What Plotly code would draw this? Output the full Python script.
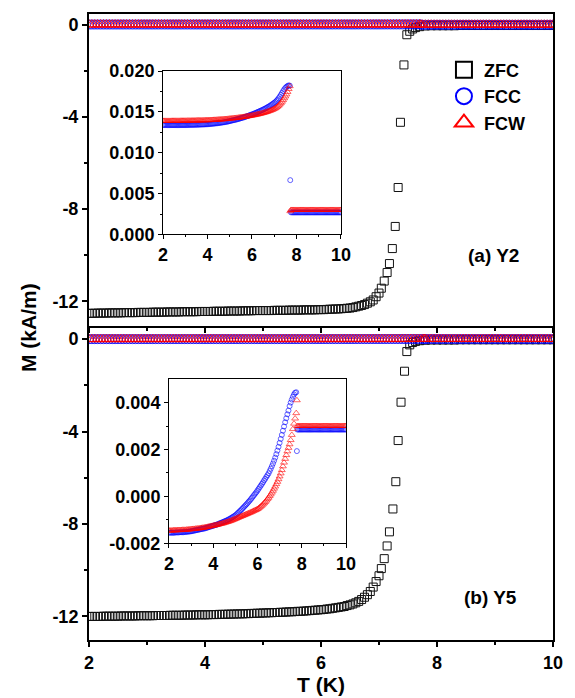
import plotly.graph_objects as go

# ---------------- data ----------------
# ZFC, panel (a) Y2
T_zfc_a = [2.00,2.05,2.10,2.15,2.20,2.25,2.30,2.35,2.40,2.45,2.50,2.55,2.60,2.65,2.70,2.75,2.80,2.85,2.90,2.95,
           3.00,3.05,3.10,3.15,3.20,3.25,3.30,3.35,3.40,3.45,3.50,3.55,3.60,3.65,3.70,3.75,3.80,3.85,3.90,3.95,
           4.00,4.05,4.10,4.15,4.20,4.25,4.30,4.35,4.40,4.45,4.50,4.55,4.60,4.65,4.70,4.75,4.80,4.85,4.90,4.95,
           5.00,5.05,5.10,5.15,5.20,5.25,5.30,5.35,5.40,5.45,5.50,5.55,5.60,5.65,5.70,5.75,5.80,5.85,5.90,5.95,
           6.00,6.05,6.10,6.15,6.20,6.25,6.30,6.35,6.40,6.45,6.50,6.55,6.60,6.65,6.70,6.75,6.80,6.85,6.90,6.95,
           7.00,7.04,7.09,7.14,7.18,7.23,7.28,7.33,7.37,7.43,7.48,7.53,7.58,7.63,7.70,7.80,
           7.90,8.00,8.10,8.20,8.30,8.40,8.50,8.60,8.70,8.80,8.90,9.00,9.10,9.20,9.30,9.40,9.50,9.60,9.70,9.80,9.90,10.00]
M_zfc_a = [-12.52,-12.52,-12.52,-12.51,-12.51,-12.51,-12.51,-12.50,-12.50,-12.50,-12.50,-12.50,-12.49,-12.49,-12.49,-12.49,-12.49,-12.48,-12.48,-12.48,
           -12.48,-12.48,-12.47,-12.47,-12.47,-12.47,-12.47,-12.46,-12.46,-12.46,-12.46,-12.46,-12.45,-12.45,-12.45,-12.45,-12.45,-12.45,-12.44,-12.44,
           -12.44,-12.44,-12.44,-12.43,-12.43,-12.43,-12.43,-12.43,-12.42,-12.42,-12.42,-12.42,-12.42,-12.41,-12.41,-12.41,-12.41,-12.40,-12.40,-12.40,
           -12.40,-12.40,-12.40,-12.40,-12.39,-12.39,-12.39,-12.39,-12.39,-12.38,-12.38,-12.38,-12.38,-12.38,-12.37,-12.37,-12.37,-12.37,-12.37,-12.36,
           -12.36,-12.36,-12.35,-12.34,-12.34,-12.33,-12.33,-12.32,-12.31,-12.30,-12.29,-12.27,-12.24,-12.21,-12.18,-12.14,-12.08,-12.02,-11.94,-11.80,
           -11.64,-11.43,-11.12,-10.75,-10.36,-9.71,-8.75,-7.06,-4.23,-1.74,-0.43,-0.28,-0.18,-0.12,-0.08,-0.05,
           -0.04,-0.04,-0.04,-0.04,-0.04,-0.03,-0.03,-0.03,-0.03,-0.03,-0.03,-0.03,-0.03,-0.03,-0.03,-0.03,-0.03,-0.03,-0.03,-0.03,-0.03,-0.03]

# ZFC, panel (b) Y5
T_zfc_b = [2.00,2.05,2.10,2.15,2.20,2.25,2.30,2.35,2.40,2.45,2.50,2.55,2.60,2.65,2.70,2.75,2.80,2.85,2.90,2.95,
           3.00,3.05,3.10,3.15,3.20,3.25,3.30,3.35,3.40,3.45,3.50,3.55,3.60,3.65,3.70,3.75,3.80,3.85,3.90,3.95,
           4.00,4.05,4.10,4.15,4.20,4.25,4.30,4.35,4.40,4.45,4.50,4.55,4.60,4.65,4.70,4.75,4.80,4.85,4.90,4.95,
           5.00,5.05,5.10,5.15,5.20,5.25,5.30,5.35,5.40,5.45,5.50,5.55,5.60,5.65,5.70,5.75,5.80,5.85,5.90,5.95,
           6.00,6.05,6.10,6.15,6.20,6.25,6.30,6.35,6.40,6.45,6.50,6.55,6.60,6.65,6.70,6.75,6.80,6.85,6.90,6.95,
           7.00,7.04,7.09,7.14,7.18,7.24,7.29,7.33,7.38,7.44,7.48,7.53,7.58,7.63,7.70,7.80,
           7.90,8.00,8.10,8.20,8.30,8.40,8.50,8.60,8.70,8.80,8.90,9.00,9.10,9.20,9.30,9.40,9.50,9.60,9.70,9.80,9.90,10.00]
M_zfc_b = [-12.00,-12.00,-12.00,-12.00,-12.00,-11.99,-11.99,-11.99,-11.99,-11.99,-11.99,-11.98,-11.98,-11.98,-11.98,-11.98,-11.98,-11.97,-11.97,-11.97,
           -11.97,-11.97,-11.97,-11.96,-11.96,-11.96,-11.96,-11.96,-11.95,-11.95,-11.95,-11.95,-11.95,-11.94,-11.94,-11.94,-11.94,-11.93,-11.93,-11.93,
           -11.93,-11.93,-11.92,-11.92,-11.92,-11.91,-11.91,-11.91,-11.90,-11.90,-11.90,-11.89,-11.89,-11.89,-11.88,-11.88,-11.87,-11.87,-11.86,-11.86,
           -11.85,-11.85,-11.84,-11.84,-11.83,-11.83,-11.82,-11.82,-11.81,-11.80,-11.80,-11.79,-11.78,-11.78,-11.77,-11.76,-11.75,-11.74,-11.73,-11.72,
           -11.71,-11.70,-11.68,-11.67,-11.65,-11.63,-11.61,-11.59,-11.57,-11.53,-11.50,-11.46,-11.41,-11.35,-11.27,-11.17,-11.06,-10.92,-10.73,-10.49,
           -10.24,-9.93,-9.50,-8.95,-8.34,-7.35,-6.17,-4.39,-2.73,-1.39,-0.54,-0.25,-0.15,-0.10,-0.07,-0.05,
           -0.04,-0.04,-0.04,-0.04,-0.04,-0.03,-0.03,-0.03,-0.03,-0.03,-0.03,-0.03,-0.03,-0.03,-0.03,-0.03,-0.03,-0.03,-0.03,-0.03,-0.03,-0.03]

# FCC / FCW, panel (a) Y2  (kA/m)
T_fc_a = [2.00,2.05,2.10,2.15,2.20,2.25,2.30,2.35,2.40,2.45,2.50,2.55,2.60,2.65,2.70,2.75,2.80,2.85,2.90,2.95,
          3.00,3.05,3.10,3.15,3.20,3.25,3.30,3.35,3.40,3.45,3.50,3.55,3.60,3.65,3.70,3.75,3.80,3.85,3.90,3.95,
          4.00,4.05,4.10,4.15,4.20,4.25,4.30,4.35,4.40,4.45,4.50,4.55,4.60,4.65,4.70,4.75,4.80,4.85,4.90,4.95,
          5.00,5.05,5.10,5.15,5.20,5.25,5.30,5.35,5.40,5.45,5.50,5.55,5.60,5.65,5.70,5.75,5.80,5.85,5.90,5.95,
          6.00,6.05,6.10,6.15,6.20,6.25,6.30,6.35,6.40,6.45,6.50,6.55,6.60,6.65,6.70,6.75,6.80,6.85,6.90,6.95,
          7.00,7.05,7.10,7.15,7.20,7.25,7.30,7.35,7.40,7.45,7.50,7.55,7.60,7.65,7.70,
          7.72,
          7.75,7.80,7.85,7.90,7.95,
          8.00,8.05,8.10,8.15,8.20,8.25,8.30,8.35,8.40,8.45,8.50,8.55,8.60,8.65,8.70,8.75,8.80,8.85,8.90,8.95,
          9.00,9.05,9.10,9.15,9.20,9.25,9.30,9.35,9.40,9.45,9.50,9.55,9.60,9.65,9.70,9.75,9.80,9.85,9.90,9.95,
          10.00]
M_fcc_a = [0.01340,0.01340,0.01340,0.01340,0.01339,0.01339,0.01339,0.01339,0.01339,0.01339,0.01339,0.01339,0.01339,0.01339,0.01339,0.01339,0.01340,0.01340,0.01340,0.01340,
           0.01340,0.01340,0.01341,0.01341,0.01342,0.01342,0.01342,0.01342,0.01343,0.01343,0.01344,0.01344,0.01345,0.01345,0.01346,0.01346,0.01347,0.01347,0.01348,0.01349,
           0.01350,0.01351,0.01352,0.01353,0.01355,0.01356,0.01358,0.01359,0.01361,0.01362,0.01364,0.01366,0.01368,0.01370,0.01372,0.01374,0.01377,0.01379,0.01382,0.01385,
           0.01388,0.01391,0.01395,0.01398,0.01401,0.01404,0.01408,0.01411,0.01415,0.01419,0.01423,0.01427,0.01431,0.01435,0.01440,0.01445,0.01450,0.01455,0.01460,0.01465,
           0.01470,0.01475,0.01481,0.01486,0.01492,0.01498,0.01504,0.01510,0.01516,0.01522,0.01529,0.01536,0.01543,0.01550,0.01558,0.01566,0.01574,0.01583,0.01592,0.01602,
           0.01612,0.01623,0.01636,0.01651,0.01668,0.01688,0.01710,0.01732,0.01755,0.01776,0.01794,0.01808,0.01818,0.01825,0.01822,
           0.00665,
           0.00271,0.00270,0.00270,0.00270,0.00270,
           0.00270,0.00270,0.00270,0.00270,0.00270,0.00270,0.00270,0.00270,0.00270,0.00270,0.00270,0.00270,0.00270,0.00270,0.00270,0.00270,0.00270,0.00270,0.00270,0.00270,
           0.00270,0.00270,0.00270,0.00270,0.00270,0.00270,0.00270,0.00270,0.00270,0.00270,0.00270,0.00270,0.00270,0.00270,0.00270,0.00270,0.00270,0.00270,0.00270,0.00270,
           0.00270]
M_fcw_a = [0.01390,0.01390,0.01390,0.01390,0.01390,0.01390,0.01390,0.01390,0.01391,0.01391,0.01391,0.01391,0.01391,0.01391,0.01391,0.01391,0.01392,0.01392,0.01392,0.01392,
           0.01392,0.01392,0.01393,0.01393,0.01393,0.01393,0.01394,0.01394,0.01394,0.01394,0.01395,0.01395,0.01396,0.01396,0.01396,0.01396,0.01397,0.01397,0.01398,0.01398,
           0.01399,0.01399,0.01400,0.01400,0.01401,0.01402,0.01403,0.01403,0.01404,0.01405,0.01406,0.01407,0.01408,0.01409,0.01410,0.01411,0.01412,0.01413,0.01415,0.01416,
           0.01418,0.01419,0.01421,0.01422,0.01424,0.01425,0.01427,0.01428,0.01430,0.01432,0.01434,0.01436,0.01438,0.01440,0.01442,0.01444,0.01446,0.01448,0.01451,0.01453,
           0.01456,0.01458,0.01461,0.01464,0.01467,0.01470,0.01473,0.01476,0.01480,0.01483,0.01487,0.01491,0.01495,0.01499,0.01504,0.01509,0.01514,0.01519,0.01525,0.01531,
           0.01538,0.01546,0.01555,0.01565,0.01577,0.01591,0.01607,0.01625,0.01645,0.01667,0.01690,0.01715,0.01745,0.01780,0.01815,
           0.00285,
           0.00300,0.00300,0.00300,0.00300,0.00300,
           0.00300,0.00300,0.00300,0.00300,0.00300,0.00300,0.00300,0.00300,0.00300,0.00300,0.00300,0.00300,0.00300,0.00300,0.00300,0.00300,0.00300,0.00300,0.00300,0.00300,
           0.00300,0.00300,0.00300,0.00300,0.00300,0.00300,0.00300,0.00300,0.00300,0.00300,0.00300,0.00300,0.00300,0.00300,0.00300,0.00300,0.00300,0.00300,0.00300,0.00300,
           0.00300]

# FCC / FCW, panel (b) Y5  (kA/m)
T_fc_b = [2.00,2.05,2.10,2.15,2.20,2.25,2.30,2.35,2.40,2.45,2.50,2.55,2.60,2.65,2.70,2.75,2.80,2.85,2.90,2.95,
          3.00,3.05,3.10,3.15,3.20,3.25,3.30,3.35,3.40,3.45,3.50,3.55,3.60,3.65,3.70,3.75,3.80,3.85,3.90,3.95,
          4.00,4.05,4.10,4.15,4.20,4.25,4.30,4.35,4.40,4.45,4.50,4.55,4.60,4.65,4.70,4.75,4.80,4.85,4.90,4.95,
          5.00,5.05,5.10,5.15,5.20,5.25,5.30,5.35,5.40,5.45,5.50,5.55,5.60,5.65,5.70,5.75,5.80,5.85,5.90,5.95,
          6.00,6.05,6.10,6.15,6.20,6.25,6.30,6.35,6.40,6.45,6.50,6.55,6.60,6.65,6.70,6.75,6.80,6.85,6.90,6.95,
          7.00,7.05,7.10,7.15,7.20,7.25,7.30,7.35,7.40,7.45,7.50,7.55,7.60,7.65,7.70,7.75,
          7.78,
          7.80,7.85,7.90,7.95,
          8.00,8.05,8.10,8.15,8.20,8.25,8.30,8.35,8.40,8.45,8.50,8.55,8.60,8.65,8.70,8.75,8.80,8.85,8.90,8.95,
          9.00,9.05,9.10,9.15,9.20,9.25,9.30,9.35,9.40,9.45,9.50,9.55,9.60,9.65,9.70,9.75,9.80,9.85,9.90,9.95,
          10.00]
M_fcc_b = [-0.00155,-0.00155,-0.00155,-0.00155,-0.00155,-0.00155,-0.00154,-0.00154,-0.00154,-0.00154,-0.00153,-0.00153,-0.00153,-0.00153,-0.00152,-0.00152,-0.00151,-0.00151,-0.00150,-0.00150,
           -0.00149,-0.00148,-0.00147,-0.00146,-0.00145,-0.00144,-0.00143,-0.00142,-0.00141,-0.00140,-0.00139,-0.00138,-0.00137,-0.00136,-0.00134,-0.00133,-0.00131,-0.00130,-0.00128,-0.00127,
           -0.00125,-0.00124,-0.00122,-0.00121,-0.00119,-0.00117,-0.00115,-0.00113,-0.00111,-0.00109,-0.00107,-0.00105,-0.00103,-0.00101,-0.00098,-0.00096,-0.00093,-0.00090,-0.00087,-0.00084,
           -0.00081,-0.00077,-0.00072,-0.00068,-0.00063,-0.00059,-0.00054,-0.00049,-0.00044,-0.00039,-0.00034,-0.00029,-0.00023,-0.00018,-0.00012,-0.00006,0.00000,0.00006,0.00012,0.00018,
           0.00025,0.00032,0.00039,0.00046,0.00053,0.00060,0.00068,0.00075,0.00083,0.00090,0.00098,0.00108,0.00118,0.00129,0.00140,0.00152,0.00165,0.00180,0.00195,0.00211,
           0.00228,0.00245,0.00262,0.00280,0.00298,0.00316,0.00333,0.00350,0.00366,0.00385,0.00400,0.00413,0.00425,0.00435,0.00442,0.00444,
           0.00193,
           0.00285,0.00285,0.00285,0.00285,
           0.00285,0.00285,0.00285,0.00285,0.00285,0.00285,0.00285,0.00285,0.00285,0.00285,0.00285,0.00285,0.00285,0.00285,0.00285,0.00285,0.00285,0.00285,0.00285,0.00285,
           0.00285,0.00285,0.00285,0.00285,0.00285,0.00285,0.00285,0.00285,0.00285,0.00285,0.00285,0.00285,0.00285,0.00285,0.00285,0.00285,0.00285,0.00285,0.00285,0.00285,
           0.00285]
M_fcw_b = [-0.00146,-0.00146,-0.00146,-0.00146,-0.00145,-0.00145,-0.00145,-0.00145,-0.00144,-0.00144,-0.00144,-0.00144,-0.00143,-0.00143,-0.00143,-0.00143,-0.00142,-0.00142,-0.00141,-0.00141,
           -0.00140,-0.00140,-0.00139,-0.00139,-0.00138,-0.00138,-0.00137,-0.00137,-0.00136,-0.00135,-0.00134,-0.00134,-0.00133,-0.00132,-0.00131,-0.00130,-0.00129,-0.00128,-0.00127,-0.00126,
           -0.00125,-0.00124,-0.00123,-0.00122,-0.00121,-0.00120,-0.00118,-0.00117,-0.00116,-0.00115,-0.00113,-0.00112,-0.00110,-0.00109,-0.00107,-0.00106,-0.00104,-0.00102,-0.00100,-0.00098,
           -0.00096,-0.00094,-0.00092,-0.00090,-0.00088,-0.00086,-0.00084,-0.00082,-0.00080,-0.00078,-0.00076,-0.00074,-0.00072,-0.00070,-0.00068,-0.00066,-0.00063,-0.00061,-0.00059,-0.00057,
           -0.00054,-0.00051,-0.00047,-0.00043,-0.00039,-0.00034,-0.00029,-0.00024,-0.00018,-0.00012,-0.00006,0.00001,0.00008,0.00016,0.00024,0.00033,0.00042,0.00052,0.00062,0.00073,
           0.00085,0.00098,0.00112,0.00128,0.00144,0.00160,0.00176,0.00192,0.00207,0.00222,0.00240,0.00262,0.00287,0.00310,0.00332,0.00355,
           0.00410,
           0.00300,0.00300,0.00300,0.00300,
           0.00300,0.00300,0.00300,0.00300,0.00300,0.00300,0.00300,0.00300,0.00300,0.00300,0.00300,0.00300,0.00300,0.00300,0.00300,0.00300,0.00300,0.00300,0.00300,0.00300,
           0.00300,0.00300,0.00300,0.00300,0.00300,0.00300,0.00300,0.00300,0.00300,0.00300,0.00300,0.00300,0.00300,0.00300,0.00300,0.00300,0.00300,0.00300,0.00300,0.00300,
           0.00300]

series_names = ["ZFC", "FCC", "FCW"]
panel_labels = ["(a) Y2", "(b) Y5"]
x_tickvals = [2, 4, 6, 8, 10]
x_ticktext = ["2", "4", "6", "8", "10"]
main_y_tickvals = [0, -4, -8, -12]
main_y_ticktext = ["0", "-4", "-8", "-12"]
inset_a_tickvals = [0, 0.005, 0.010, 0.015, 0.020]
inset_a_ticktext = ["0.000", "0.005", "0.010", "0.015", "0.020"]
inset_b_tickvals = [-0.002, 0, 0.002, 0.004]
inset_b_ticktext = ["-0.002", "0.000", "0.002", "0.004"]

# ---------------- styles ----------------
FONT = "Liberation Sans, Arial, sans-serif"
BLACK = "#000000"
BLUE = "#0000FF"
RED = "#FF0000"

fig = go.Figure()

def main_traces(xa, ya, Tz, Mz, Tf, Mc, Mw):
    fig.add_trace(go.Scatter(x=Tz, y=Mz, mode="markers", xaxis=xa, yaxis=ya, showlegend=False,
                             marker=dict(symbol="square-open", size=8, color="#111111", line=dict(width=1))))
    fig.add_trace(go.Scatter(x=Tf, y=Mc, mode="markers", xaxis=xa, yaxis=ya, showlegend=False,
                             marker=dict(symbol="circle-open", size=9, color=BLUE, line=dict(width=0.8))))
    fig.add_trace(go.Scatter(x=Tf, y=Mw, mode="markers", xaxis=xa, yaxis=ya, showlegend=False,
                             marker=dict(symbol="triangle-up-open", size=10, color=RED, line=dict(width=0.8))))

def inset_traces(xa, ya, Tf, Mc, Mw):
    fig.add_trace(go.Scatter(x=Tf, y=Mc, mode="markers", xaxis=xa, yaxis=ya, showlegend=False,
                             marker=dict(symbol="circle-open", size=5, color=BLUE, line=dict(width=0.6))))
    fig.add_trace(go.Scatter(x=Tf, y=Mw, mode="markers", xaxis=xa, yaxis=ya, showlegend=False,
                             marker=dict(symbol="triangle-up-open", size=6, color=RED, line=dict(width=0.6))))

# top panel (a): x2/y2 ; bottom panel (b): x/y
main_traces("x2", "y2", T_zfc_a, M_zfc_a, T_fc_a, M_fcc_a, M_fcw_a)
main_traces("x", "y", T_zfc_b, M_zfc_b, T_fc_b, M_fcc_b, M_fcw_b)
inset_traces("x3", "y3", T_fc_a, M_fcc_a, M_fcw_a)
inset_traces("x4", "y4", T_fc_b, M_fcc_b, M_fcw_b)

# legend entries
leg_styles = [("square-open", BLACK, 20), ("circle-open", BLUE, 22), ("triangle-up-open", RED, 24)]
for name, (sym, col, sz) in zip(series_names, leg_styles):
    fig.add_trace(go.Scatter(x=[None], y=[None], mode="markers", name=name, xaxis="x2", yaxis="y2",
                             marker=dict(symbol=sym, size=sz, color=col, line=dict(width=2))))

tickfont_main = dict(family=FONT, size=18, color=BLACK, weight="bold")
tickfont_inset = dict(family=FONT, size=18, color=BLACK, weight="bold")

def xaxis_main(anchor, labels, title=None):
    d = dict(anchor=anchor, domain=[0, 1], range=[2, 10], showline=True, linewidth=2, linecolor=BLACK,
             mirror=True, ticks="outside", ticklen=5, tickwidth=2, tickcolor=BLACK,
             tickvals=x_tickvals, ticktext=x_ticktext, showticklabels=labels, tickfont=tickfont_main,
             showgrid=False, zeroline=False,
             minor=dict(tickvals=[3, 5, 7, 9], ticks="outside", ticklen=3, tickwidth=1.5, tickcolor=BLACK))
    if title:
        d["title"] = dict(text=title, font=dict(family=FONT, size=21, color=BLACK, weight="bold"), standoff=6)
    return d

def yaxis_main(anchor, domain, rng):
    return dict(anchor=anchor, domain=domain, range=rng, showline=True, linewidth=2, linecolor=BLACK,
                mirror=True, ticks="outside", ticklen=5, tickwidth=2, tickcolor=BLACK,
                tickvals=main_y_tickvals, ticktext=main_y_ticktext, tickfont=tickfont_main,
                showgrid=False, zeroline=False,
                minor=dict(tickvals=[-2, -6, -10], ticks="outside", ticklen=3, tickwidth=1.5, tickcolor=BLACK))

def xaxis_inset(anchor, domain):
    return dict(anchor=anchor, domain=domain, range=[2, 10], showline=True, linewidth=1, linecolor=BLACK,
                mirror=True, ticks="outside", ticklen=4, tickwidth=1, tickcolor=BLACK,
                tickvals=x_tickvals, ticktext=x_ticktext, tickfont=tickfont_inset,
                showgrid=False, zeroline=False,
                minor=dict(tickvals=[3, 5, 7, 9], ticks="outside", ticklen=2, tickwidth=1, tickcolor=BLACK))

def yaxis_inset(anchor, domain, rng, tv, tt, minor_tv):
    return dict(anchor=anchor, domain=domain, range=rng, showline=True, linewidth=1, linecolor=BLACK,
                mirror=True, ticks="outside", ticklen=4, tickwidth=1, tickcolor=BLACK,
                tickvals=tv, ticktext=tt, tickfont=tickfont_inset,
                showgrid=False, zeroline=False,
                minor=dict(tickvals=minor_tv, ticks="outside", ticklen=2, tickwidth=1, tickcolor=BLACK))

fig.update_layout(
    width=575, height=698,
    margin=dict(l=89, r=22, t=4, b=58),
    paper_bgcolor="white", plot_bgcolor="white",
    font=dict(family=FONT, color=BLACK),
    xaxis=xaxis_main("y", True, "T (K)"),
    yaxis=yaxis_main("x", [0, 0.4984], [-13.02, 0.48]),
    xaxis2=xaxis_main("y2", False),
    yaxis2=yaxis_main("x2", [0.5016, 1.0], [-13.07, 0.47]),
    xaxis3=xaxis_inset("y3", [0.1595, 0.543]),
    yaxis3=yaxis_inset("x3", [0.6478, 0.9088], [0, 0.020], inset_a_tickvals, inset_a_ticktext,
                       [0.0025, 0.0075, 0.0125, 0.0175]),
    xaxis4=xaxis_inset("y4", [0.1724, 0.5539]),
    yaxis4=yaxis_inset("x4", [0.1546, 0.4167], [-0.002, 0.005], inset_b_tickvals, inset_b_ticktext,
                       [-0.001, 0.001, 0.003]),
    legend=dict(x=0.765, y=0.94, xanchor="left", yanchor="top", bgcolor="rgba(0,0,0,0)",
                font=dict(family=FONT, size=18, color=BLACK, weight="bold"), itemsizing="trace"),
    annotations=[
        dict(text="M (kA/m)", x=-0.1315, y=0.5, xref="paper", yref="paper", textangle=-90,
             xanchor="center", yanchor="middle",
             showarrow=False, font=dict(family=FONT, size=21, color=BLACK, weight="bold")),
        dict(text=panel_labels[0], x=0.8707, y=0.6147, xref="paper", yref="paper", showarrow=False,
             xanchor="center", yanchor="middle",
             font=dict(family=FONT, size=19, color=BLACK, weight="bold")),
        dict(text=panel_labels[1], x=0.866, y=0.0676, xref="paper", yref="paper", showarrow=False,
             xanchor="center", yanchor="middle",
             font=dict(family=FONT, size=19, color=BLACK, weight="bold")),
    ],
)

fig.write_html("out.html")
